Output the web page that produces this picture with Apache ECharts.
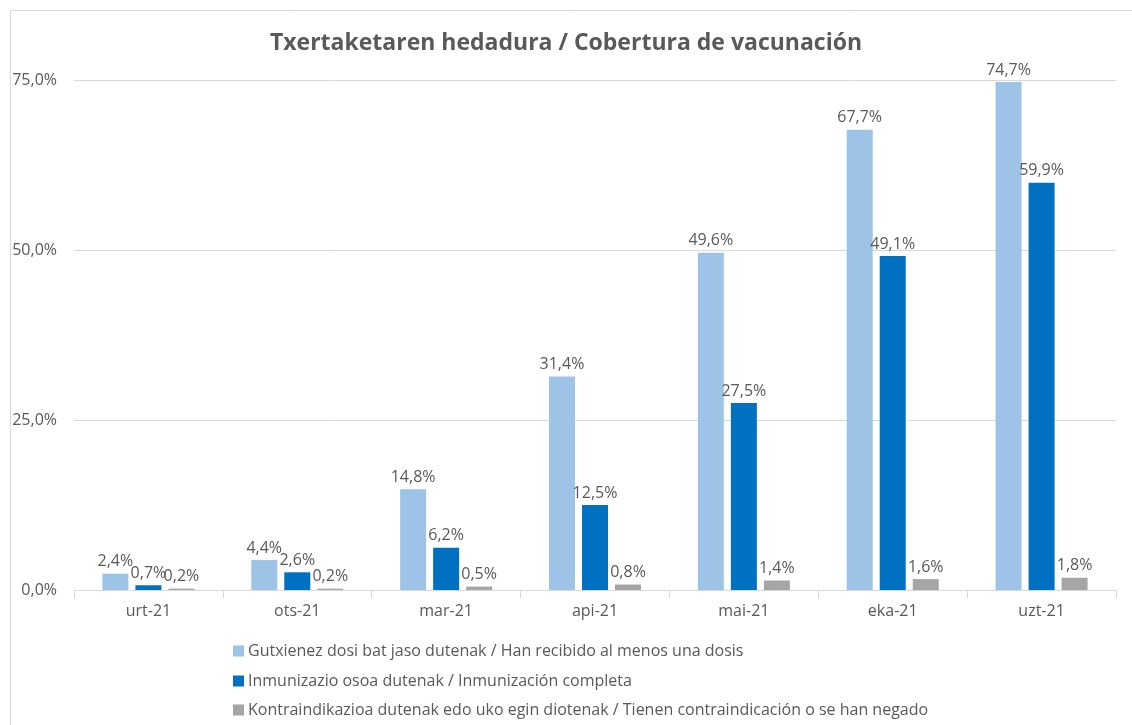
<!DOCTYPE html>
<html>
<head>
<meta charset="utf-8">
<script src="https://cdn.jsdelivr.net/npm/echarts@6/dist/echarts.min.js"></script>
<style>
html,body{margin:0;padding:0;background:#fff;}
#chart{width:1132px;height:725px;}
</style>
</head>
<body>
<div id="chart"></div>
<script>
const categories = ['urt-21','ots-21','mar-21','api-21','mai-21','eka-21','uzt-21'];
const seriesNames = [
  'Gutxienez dosi bat jaso dutenak / Han recibido al menos una dosis',
  'Inmunizazio osoa dutenak / Inmunización completa',
  'Kontraindikazioa dutenak edo uko egin diotenak / Tienen contraindicación o se han negado'
];
const firstDose = [2.4, 4.4, 14.8, 31.4, 49.6, 67.7, 74.7];
const fullImmun = [0.7, 2.6, 6.2, 12.5, 27.5, 49.1, 59.9];
const contraind = [0.2, 0.2, 0.5, 0.8, 1.4, 1.6, 1.8];
const yTicks = [0, 25, 50, 75];
const colors = ['#9DC3E6', '#0070C0', '#A5A5A5'];

const FONT = 'Open Sans';
const TXT = '#595959';
const fmt = v => v.toFixed(1).replace('.', ',') + '%';

const chart = echarts.init(document.getElementById('chart'));
const mk = (name, data, color) => ({
  name, type: 'bar', data,
  itemStyle: { color },
  barWidth: 26,
  barGap: '27%',
  label: {
    show: true, position: 'top', distance: 4,
    formatter: p => fmt(p.value),
    color: TXT, fontFamily: FONT, fontSize: 16
  }
});
const legendTops = [638, 668, 697];
chart.setOption({
  animation: false,
  backgroundColor: '#fff',
  graphic: [{
    type: 'rect', shape: { x: 10.5, y: 10.5, width: 1140, height: 740 },
    style: { fill: 'none', stroke: '#D9D9D9', lineWidth: 1 }, silent: true, z: -1
  }],
  title: {
    text: 'Txertaketaren hedadura / Cobertura de vacunación',
    left: 'center', top: 27,
    textStyle: { fontFamily: FONT, fontSize: 23, fontWeight: 'bold', color: TXT }
  },
  grid: { left: 74, right: 16, top: 80, bottom: 135, containLabel: false },
  legend: seriesNames.map((n, i) => ({
    orient: 'horizontal', left: 228, top: legendTops[i],
    itemWidth: 11, itemHeight: 11, icon: 'rect',
    textStyle: { fontFamily: FONT, fontSize: 16, color: TXT, padding: [0, 0, 0, -1] },
    data: [n]
  })),
  xAxis: {
    type: 'category', data: categories,
    axisLine: { lineStyle: { color: '#D9D9D9' } },
    axisTick: { show: true, length: 8, lineStyle: { color: '#D9D9D9' } },
    axisLabel: { color: TXT, fontFamily: FONT, fontSize: 16, margin: 13 }
  },
  yAxis: {
    type: 'value', min: 0, max: 75, interval: 25,
    axisLine: { show: false }, axisTick: { show: false },
    splitLine: { lineStyle: { color: '#D9D9D9' } },
    axisLabel: { color: TXT, fontFamily: FONT, fontSize: 16, margin: 17, formatter: v => fmt(v) }
  },
  series: [
    mk(seriesNames[0], firstDose, colors[0]),
    mk(seriesNames[1], fullImmun, colors[1]),
    mk(seriesNames[2], contraind, colors[2])
  ]
});
</script>
</body>
</html>
